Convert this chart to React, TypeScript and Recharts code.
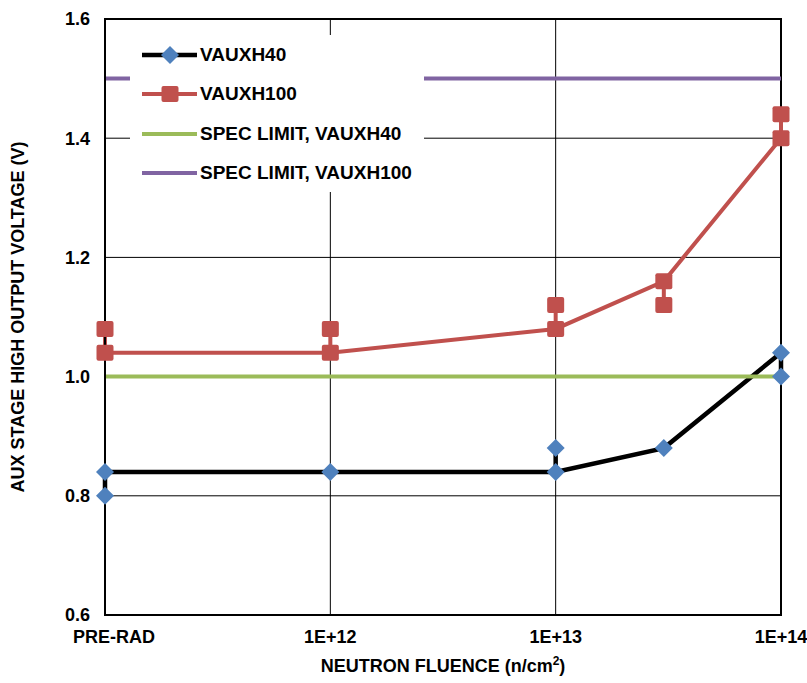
import {
  ComposedChart,
  Line,
  XAxis,
  YAxis,
  CartesianGrid,
  Legend,
  ErrorBar,
  ReferenceArea,
  Label,
} from "recharts";

// neutron fluence points (log10 position, PRE-RAD drawn at the 1E+11 slot)
const fluenceLabels = ["PRE-RAD", "1E+12", "1E+13", "3E+13", "1E+14"];
const fluenceLog = [11, 12, 13, 13.48, 14];
const tickPositions = [11, 12, 13, 14];
const tickLabels = ["PRE-RAD", "1E+12", "1E+13", "1E+14"];
const yTicks = [0.6, 0.8, 1.0, 1.2, 1.4, 1.6];

// measured values (V)
const vauxh40 = [0.84, 0.84, 0.84, 0.88, 1.04];
const vauxh40Other = [0.8, null, 0.88, null, 1.0];
const vauxh100 = [1.04, 1.04, 1.08, 1.16, 1.4];
const vauxh100Other = [1.08, 1.08, 1.12, 1.12, 1.44];
const specLimit40 = [1.0, 1.0, 1.0, 1.0, 1.0];
const specLimit100 = [1.5, 1.5, 1.5, 1.5, 1.5];

const BLUE = "#4F81BD";
const RED = "#C0504D";
const GREEN = "#9BBB59";
const PURPLE = "#8064A2";
const FONT = "'Liberation Sans', Arial, sans-serif";

// spread between the two readings, drawn as a plain vertical connector
const spread = (main: number, other: number | null) => {
  if (other == null) return [0, 0];
  return other < main ? [main - other, 0] : [0, other - main];
};

const chartData = fluenceLog.map((x, i) => ({
  x,
  label: fluenceLabels[i],
  v40: vauxh40[i],
  v40o: vauxh40Other[i],
  v40err: spread(vauxh40[i], vauxh40Other[i]),
  v100: vauxh100[i],
  v100o: vauxh100Other[i],
  v100err: spread(vauxh100[i], vauxh100Other[i]),
  spec40: specLimit40[i],
  spec100: specLimit100[i],
}));

function Diamond({ cx, cy }: any) {
  if (cx == null || cy == null || isNaN(cy)) return null;
  const r = 9;
  return (
    <polygon
      points={`${cx},${cy - r} ${cx + r},${cy} ${cx},${cy + r} ${cx - r},${cy}`}
      fill={BLUE}
    />
  );
}

function Square({ cx, cy }: any) {
  if (cx == null || cy == null || isNaN(cy)) return null;
  return <rect x={cx - 8.5} y={cy - 8} width={17} height={16} rx={2} fill={RED} />;
}

function XTick({ x, y, payload, index }: any) {
  const label = tickLabels[tickPositions.indexOf(payload.value)] ?? "";
  // Excel nudges the first label inward
  const shift = index === 0 ? 9 : 0;
  return (
    <text
      x={x + shift}
      y={y}
      dy="0.71em"
      textAnchor="middle"
      fontFamily={FONT}
      fontWeight="bold"
      fontSize={18}
      fill="#000"
    >
      {label}
    </text>
  );
}

const legendItems = [
  { name: "VAUXH40", color: "#000", width: 4.5, marker: "diamond" },
  { name: "VAUXH100", color: RED, width: 4, marker: "square" },
  { name: "SPEC LIMIT, VAUXH40", color: GREEN, width: 4, marker: "" },
  { name: "SPEC LIMIT, VAUXH100", color: PURPLE, width: 4, marker: "" },
];

function LegendBox() {
  return (
    <div>
      {legendItems.map((item) => (
        <div
          key={item.name}
          style={{ display: "flex", alignItems: "center", height: 39.5, paddingLeft: 12 }}
        >
          <svg width={58} height={20} style={{ display: "block" }}>
            <line x1={0} y1={10} x2={55} y2={10} stroke={item.color} strokeWidth={item.width} />
            {item.marker === "diamond" && <Diamond cx={28} cy={10} />}
            {item.marker === "square" && <Square cx={28} cy={10} />}
          </svg>
          <span
            style={{
              fontFamily: FONT,
              fontWeight: "bold",
              fontSize: 19,
              color: "#000",
              whiteSpace: "nowrap",
            }}
          >
            {item.name}
          </span>
        </div>
      ))}
    </div>
  );
}

export default function App() {
  return (
    <div style={{ position: "absolute", left: 0, top: 0, width: 807, height: 683, background: "#fff" }}>
      <ComposedChart
        width={807}
        height={683}
        data={chartData}
        margin={{ top: 19, right: 26, bottom: 28, left: 45 }}
      >
        <CartesianGrid stroke="#000" strokeWidth={1} />
        <XAxis
          dataKey="x"
          type="number"
          domain={[11, 14]}
          ticks={tickPositions}
          tick={<XTick />}
          tickLine={false}
          tickSize={0}
          tickMargin={15}
          axisLine={{ stroke: "#000", strokeWidth: 2 }}
          height={40}
        >
          <Label
            content={({ viewBox }: any) => (
              <text
                x={viewBox.x + viewBox.width / 2}
                y={672}
                textAnchor="middle"
                fontFamily={FONT}
                fontWeight="bold"
                fontSize={18}
                fill="#000"
              >
                NEUTRON FLUENCE (n/cm
                <tspan dy={-7} fontSize={12}>2</tspan>
                <tspan dy={7}>)</tspan>
              </text>
            )}
          />
        </XAxis>
        <YAxis
          type="number"
          domain={[0.6, 1.6]}
          ticks={yTicks}
          tickFormatter={(v: number) => v.toFixed(1)}
          tick={{ fontFamily: FONT, fontWeight: "bold", fontSize: 18, fill: "#000" }}
          tickLine={false}
          tickSize={0}
          tickMargin={15}
          axisLine={{ stroke: "#000", strokeWidth: 2 }}
          width={60}
        >
          <Label
            content={({ viewBox }: any) => {
              const cy = viewBox.y + viewBox.height / 2;
              return (
                <text
                  x={24}
                  y={cy}
                  transform={`rotate(-90, 24, ${cy})`}
                  textAnchor="middle"
                  fontFamily={FONT}
                  fontWeight="bold"
                  fontSize={18}
                  fill="#000"
                >
                  AUX STAGE HIGH OUTPUT VOLTAGE (V)
                </text>
              );
            }}
          />
        </YAxis>
        <ReferenceArea x1={11} x2={14} y1={0.6} y2={1.6} fill="none" stroke="#000" strokeWidth={2} />

        <Line
          dataKey="v40"
          stroke="#000"
          strokeWidth={4.5}
          dot={(p: any) => <Diamond key={`d40-${p.index}`} {...p} />}
          activeDot={false}
          isAnimationActive={false}
        >
          <ErrorBar dataKey="v40err" direction="y" width={0} stroke="#000" strokeWidth={4.5} />
        </Line>
        <Line
          dataKey="v40o"
          stroke="none"
          dot={(p: any) => <Diamond key={`d40o-${p.index}`} {...p} />}
          activeDot={false}
          isAnimationActive={false}
        />
        <Line
          dataKey="v100"
          stroke={RED}
          strokeWidth={4}
          dot={(p: any) => <Square key={`d100-${p.index}`} {...p} />}
          activeDot={false}
          isAnimationActive={false}
        >
          <ErrorBar dataKey="v100err" direction="y" width={0} stroke={RED} strokeWidth={4} />
        </Line>
        <Line
          dataKey="v100o"
          stroke="none"
          dot={(p: any) => <Square key={`d100o-${p.index}`} {...p} />}
          activeDot={false}
          isAnimationActive={false}
        />
        <Line dataKey="spec40" stroke={GREEN} strokeWidth={4} dot={false} activeDot={false} isAnimationActive={false} />
        <Line dataKey="spec100" stroke={PURPLE} strokeWidth={4} dot={false} activeDot={false} isAnimationActive={false} />

        <Legend
          layout="horizontal"
          verticalAlign="middle"
          align="center"
          content={() => <LegendBox />}
          wrapperStyle={{
            position: "absolute",
            left: 130,
            top: 35,
            width: 294,
            height: 157,
            background: "#fff",
          }}
        />
      </ComposedChart>
    </div>
  );
}
